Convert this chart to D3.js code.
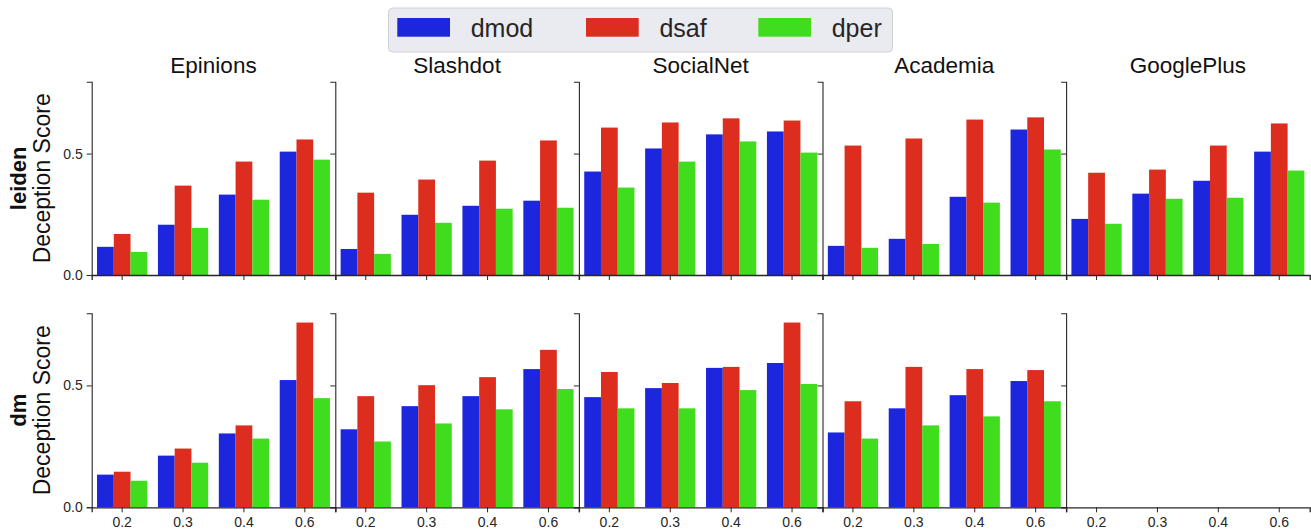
<!DOCTYPE html>
<html>
<head>
<meta charset="utf-8">
<script src="https://cdn.jsdelivr.net/npm/d3@7"></script>
<style>
  html, body { margin: 0; padding: 0; background: #ffffff; }
  svg { display: block; font-family: "Liberation Sans", Arial, Helvetica, sans-serif; }
</style>
</head>
<body>
<svg id="chart" width="1311" height="532"></svg>
<script>
// Perturbation thresholds on the x axis of every panel
const thresholds = ["0.2", "0.3", "0.4", "0.6"];
// One column of panels per network
const datasets = ["Epinions", "Slashdot", "SocialNet", "Academia", "GooglePlus"];
// Bar series (hue)
const methods = ["dmod", "dsaf", "dper"];
// One row of panels per community detection algorithm
const algorithms = ["leiden", "dm"];
const yTicks = [0.0, 0.5];

// Deception scores, one inner array per dataset (values per threshold)
const leidenDmod = [[0.116, 0.207, 0.331, 0.508], [0.107, 0.248, 0.285, 0.306], [0.426, 0.521, 0.579, 0.591], [0.120, 0.149, 0.322, 0.599], [0.231, 0.335, 0.388, 0.508]];
const leidenDsaf = [[0.169, 0.368, 0.467, 0.558], [0.339, 0.393, 0.471, 0.554], [0.607, 0.628, 0.645, 0.636], [0.533, 0.562, 0.640, 0.649], [0.421, 0.434, 0.533, 0.624]];
const leidenDper = [[0.095, 0.194, 0.310, 0.475], [0.087, 0.215, 0.273, 0.277], [0.360, 0.467, 0.550, 0.504], [0.112, 0.128, 0.298, 0.517], [0.211, 0.314, 0.318, 0.430]];
const dmDmod = [[0.134, 0.212, 0.303, 0.522], [0.320, 0.415, 0.456, 0.567], [0.452, 0.489, 0.572, 0.592], [0.307, 0.406, 0.460, 0.518], []];
const dmDsaf = [[0.146, 0.241, 0.336, 0.758], [0.456, 0.501, 0.534, 0.646], [0.555, 0.510, 0.576, 0.758], [0.435, 0.576, 0.567, 0.563], []];
const dmDper = [[0.109, 0.183, 0.282, 0.448], [0.270, 0.344, 0.402, 0.485], [0.406, 0.406, 0.481, 0.506], [0.282, 0.336, 0.373, 0.435], []];

const seriesByRow = {
  leiden: [leidenDmod, leidenDsaf, leidenDper],
  dm: [dmDmod, dmDsaf, dmDper]
};
const colors = ["#1c26dd", "#dc2d1e", "#40dd1f"];
const ink = "#262626";

const svg = d3.select("#chart");

// Grid geometry
const gridLeft = 91.7, panelW = 243.6;
const rowBox = [{ top: 81.7, bottom: 275 }, { top: 313.3, bottom: 507.3 }];

const allValues = [].concat(...Object.values(seriesByRow).flat(2));
const yMax = d3.max(allValues) * 1.05;

const color = d3.scaleOrdinal().domain(methods).range(colors);
const x0 = d3.scaleBand().domain(thresholds).range([0, panelW]).padding(0);
const groupW = x0.bandwidth() * 0.825;
const x1 = d3.scaleBand().domain(methods)
  .range([(x0.bandwidth() - groupW) / 2, (x0.bandwidth() + groupW) / 2]).padding(0);

algorithms.forEach((alg, r) => {
  const box = rowBox[r];
  const y = d3.scaleLinear().domain([0, yMax]).range([box.bottom, box.top]);

  datasets.forEach((ds, c) => {
    const g = svg.append("g").attr("transform", `translate(${gridLeft + c * panelW},0)`);

    // bars
    methods.forEach((m, k) => {
      const vals = seriesByRow[alg][k][c];
      g.selectAll(null)
        .data(vals.map((v, i) => ({ t: thresholds[i], v })))
        .join("rect")
        .attr("x", d => x0(d.t) + x1(m))
        .attr("width", x1.bandwidth())
        .attr("y", d => y(d.v))
        .attr("height", d => y(0) - y(d.v))
        .attr("fill", color(m));
    });

    // y axis (labels only on the first column)
    const yAxis = d3.axisLeft(y).tickValues(yTicks).tickSizeOuter(0).tickSize(5).tickPadding(4)
      .tickFormat(c === 0 ? d3.format(".1f") : () => "");
    const ya = g.append("g").call(yAxis);
    ya.select(".domain").attr("stroke", ink).attr("stroke-width", 1.1);
    ya.selectAll(".tick line").attr("stroke", ink).attr("stroke-width", 1);
    ya.selectAll(".tick text").attr("fill", ink).attr("font-size", 14);

    // x axis (labels only on the bottom row)
    const xAxis = d3.axisBottom(x0).tickSizeOuter(0).tickSize(5).tickPadding(5)
      .tickFormat(r === algorithms.length - 1 ? d => d : () => "");
    const xa = g.append("g").attr("transform", `translate(0,${box.bottom})`).call(xAxis);
    xa.select(".domain").attr("stroke", ink).attr("stroke-width", 1.3);
    xa.selectAll(".tick line").attr("stroke", ink).attr("stroke-width", 1);
    xa.selectAll(".tick text").attr("fill", ink).attr("font-size", 14);

    // column titles on the top row
    if (r === 0) {
      g.append("text")
        .attr("x", panelW / 2).attr("y", 73)
        .attr("text-anchor", "middle")
        .attr("font-size", 22.5)
        .attr("fill", "#111")
        .text(ds);
    }
  });

  // row label: algorithm name (bold) over "Deception Score"
  const cy = (box.top + box.bottom) / 2;
  svg.append("text")
    .attr("transform", `translate(26,${cy}) rotate(-90)`)
    .attr("text-anchor", "middle")
    .attr("font-size", 22)
    .attr("font-weight", "bold")
    .attr("fill", "#111")
    .text(alg);
  svg.append("text")
    .attr("transform", `translate(50,${cy}) rotate(-90)`)
    .attr("text-anchor", "middle")
    .attr("font-size", 23)
    .attr("fill", "#111")
    .text("Deception Score");
});

// Legend
const legend = svg.append("g");
legend.append("rect")
  .attr("x", 388.5).attr("y", 8).attr("width", 504).attr("height", 44)
  .attr("rx", 4).attr("ry", 4)
  .attr("fill", "#eaeaf1").attr("stroke", "#d2d2d6").attr("stroke-width", 1);
const legendX = [397.3, 586, 758.3];
methods.forEach((m, i) => {
  legend.append("rect")
    .attr("x", legendX[i]).attr("y", 18).attr("width", 52.7).attr("height", 18.7)
    .attr("fill", color(m));
  legend.append("text")
    .attr("x", legendX[i] + 73.4).attr("y", 36.5)
    .attr("font-size", 25)
    .attr("fill", ink)
    .text(m);
});
</script>
</body>
</html>
